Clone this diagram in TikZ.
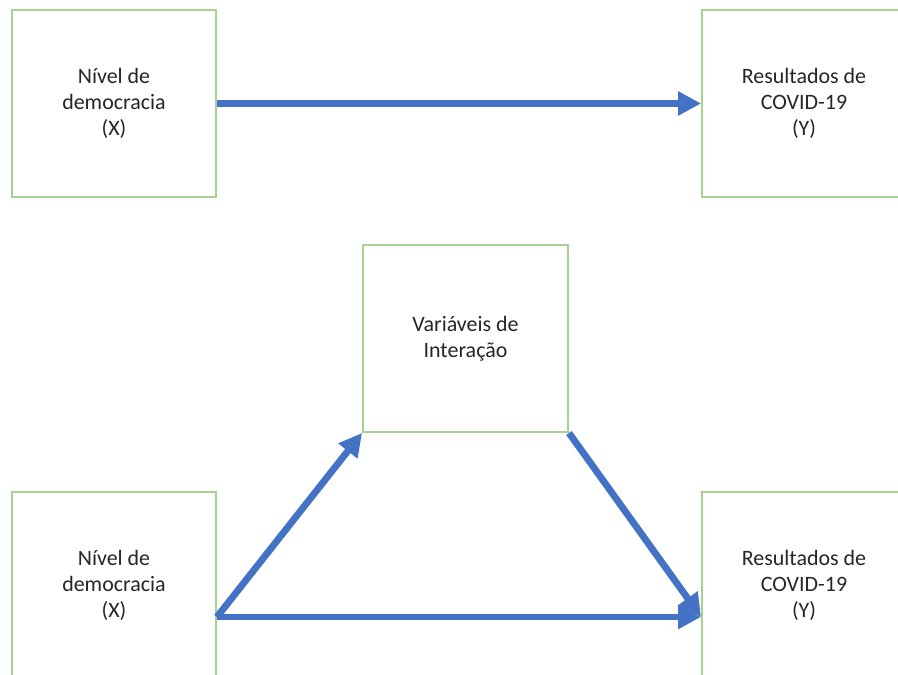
\documentclass[tikz,border=0pt]{standalone}
\usepackage{fontspec}
\setmainfont{Carlito}
\usetikzlibrary{arrows.meta}
\definecolor{boxgreen}{HTML}{A9D18E}
\definecolor{arrowblue}{HTML}{4472C4}

\begin{document}
\begin{tikzpicture}[x = 0.02cm, y = -0.02cm,
    box/.style = {draw = boxgreen, line width = 1.1pt, fill = white,
        minimum width = 4.08cm, minimum height = 3.74cm, align = center,
        text = black!85, font = \fontsize{12.5}{14.8}\selectfont},
    link/.style = {draw = arrowblue, line width = 3.9pt,
        -{Triangle[length = 0.46cm, width = 0.46cm]}}]
    \useasboundingbox (0,0) rectangle (898,675);
    % upper diagram
    \node[box] (xtop) at (114,103.5) {Nível de\\democracia\\(X)};
    \node[box] (ytop) at (804,103.5) {Resultados de\\COVID-19\\(Y)};
    \draw[link] (xtop) -- (ytop);
    % lower diagram
    \node[box, minimum width = 4.1cm] (inter) at (465.5,338.5) {Variáveis de\\Interação};
    \node[box] (xbot) at (114,585.5) {Nível de\\democracia\\(X)};
    \node[box] (ybot) at (804,585.5) {Resultados de\\COVID-19\\(Y)};
    \draw[link] (xbot.-17) -- (inter.south west);
    \draw[link] (inter.south east) -- (ybot.197);
    \draw[link] (xbot.-17) -- (ybot.197);
\end{tikzpicture}
\end{document}
